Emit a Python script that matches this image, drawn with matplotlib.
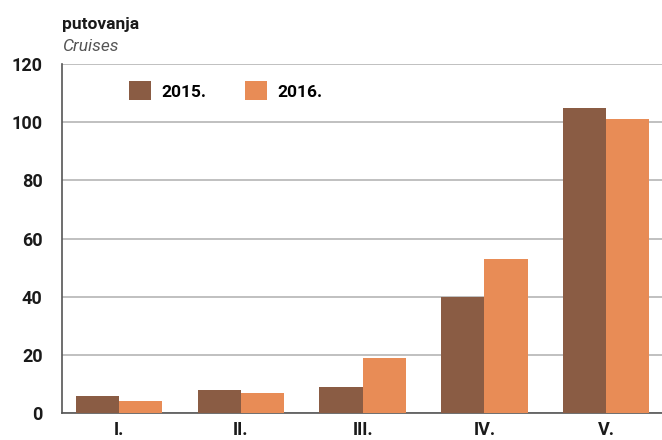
import numpy as np
import matplotlib.pyplot as plt

# Cruises by month [I..V], 2015 vs 2016
months = ["I.", "II.", "III.", "IV.", "V."]
cruises_2015 = [6, 8, 9, 40, 105]
cruises_2016 = [4, 7, 19, 53, 101]
yticks = [0, 20, 40, 60, 80, 100, 120]

plt.rcParams['font.family'] = ['Roboto', 'DejaVu Sans']

fig = plt.figure(figsize=(6.62, 4.4), dpi=100)
ax = fig.add_axes([0.0937, 0.0614, 0.9063, 0.7931])

x = np.arange(len(months))
w = 0.355
ax.bar(x - w/2, cruises_2015, w, color='#8a5c44', label='2015.', zorder=3)
ax.bar(x + w/2, cruises_2016, w, color='#e88c56', label='2016.', zorder=3)

ax.set_xlim(-0.47, 4.46)
ax.set_ylim(0, 120)
ax.set_yticks(yticks)
ax.set_xticks(x)
ax.set_xticklabels(months)
ax.yaxis.grid(True, color='#b5b5b5', linewidth=1.2, zorder=0)
ax.tick_params(length=0, labelsize=13, colors='#1a1a1a', pad=6)
ax.tick_params(axis='y', pad=14)
for lab in ax.get_xticklabels() + ax.get_yticklabels():
    lab.set_fontweight('bold')
for s in ['top', 'right']:
    ax.spines[s].set_visible(False)
ax.spines['left'].set_color('#555555')
ax.spines['bottom'].set_color('#555555')
ax.spines['left'].set_linewidth(1.2)
ax.spines['bottom'].set_linewidth(1.2)

ax.legend(loc='upper left', bbox_to_anchor=(0.085, 0.995), ncol=2, frameon=False,
          handlelength=1.3, handleheight=1.3, columnspacing=2.2, handletextpad=0.6,
          prop={'size': 12.5, 'weight': 'bold'})

fig.text(0.0937, 0.935, "putovanja", fontsize=12.5, fontweight='bold', color='#1a1a1a')
fig.text(0.0937, 0.885, "Cruises", fontsize=12.5, style='italic', color='#555555')

fig.savefig("out.png", dpi=100)
